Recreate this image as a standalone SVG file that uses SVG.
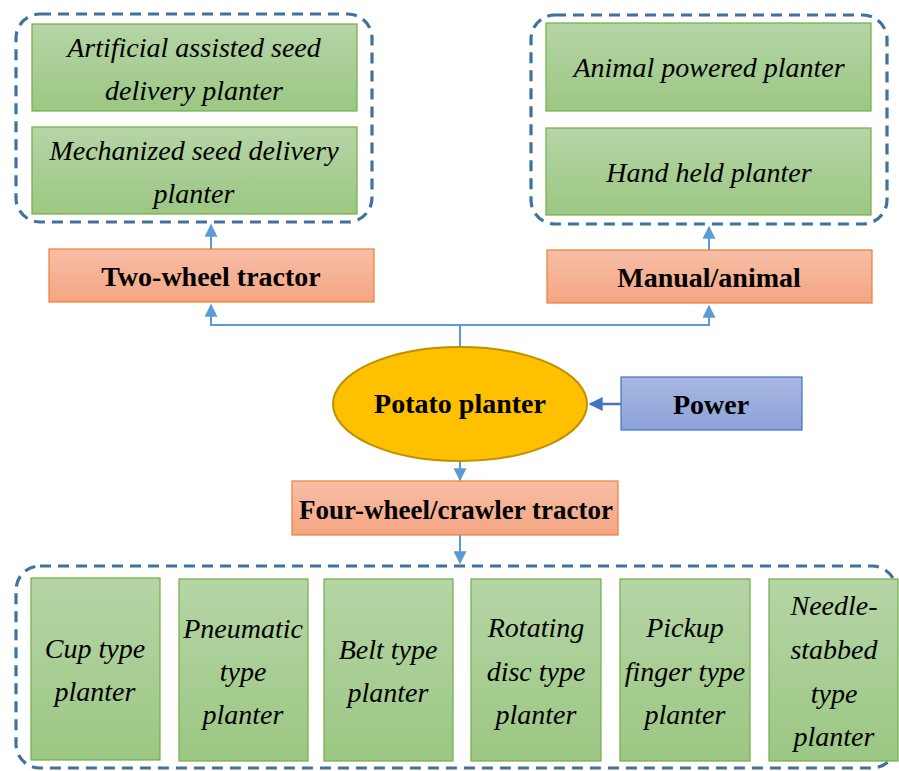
<svg xmlns="http://www.w3.org/2000/svg" width="899" height="771" viewBox="0 0 899 771">
<defs>
<linearGradient id="gG" x1="0" y1="0" x2="0" y2="1"><stop offset="0" stop-color="#b5d5a6"/><stop offset="1" stop-color="#9cc783"/></linearGradient>
<linearGradient id="gO" x1="0" y1="0" x2="0" y2="1"><stop offset="0" stop-color="#f7bea6"/><stop offset="1" stop-color="#f4a582"/></linearGradient>
<linearGradient id="gB" x1="0" y1="0" x2="0" y2="1"><stop offset="0" stop-color="#a9b8e2"/><stop offset="1" stop-color="#8ba2d8"/></linearGradient>
<marker id="ah" viewBox="0 0 10 10" refX="9" refY="5" markerWidth="13" markerHeight="13" markerUnits="userSpaceOnUse" orient="auto"><path d="M0,0 L10,5 L0,10 z" fill="#5b9bd5"/></marker>
<marker id="ahd" viewBox="0 0 10 10" refX="9" refY="5" markerWidth="14" markerHeight="14" markerUnits="userSpaceOnUse" orient="auto"><path d="M0,0 L10,5 L0,10 z" fill="#4472c4"/></marker>
<style>
.g{fill:url(#gG);stroke:#70ad47;stroke-width:1.2}
.o{fill:url(#gO);stroke:#ed7d31;stroke-width:1.2}
.d{fill:none;stroke:#41719c;stroke-width:3.2;stroke-dasharray:11 7}
.c{fill:none;stroke:#5b9bd5;stroke-width:2}
.ti{font-family:'Liberation Serif','Times New Roman',serif;font-style:italic;font-size:28px;fill:#000;text-anchor:middle}
.tb{font-family:'Liberation Serif','Times New Roman',serif;font-weight:bold;font-size:28px;fill:#000;text-anchor:middle}
</style>
</defs>
<g id="groups">
<rect class="d" x="16" y="14" width="356" height="208" rx="24"/>
<rect class="d" x="531" y="15" width="356" height="209" rx="24"/>
<rect class="d" x="16" y="566" width="880" height="202" rx="24"/>
</g>
<g id="connectors">
<path class="c" d="M460,347 V325 H211 V305" marker-end="url(#ah)"/>
<path class="c" d="M460,325 H709 V306" marker-end="url(#ah)"/>
<path class="c" d="M211,249 V225" marker-end="url(#ah)"/>
<path class="c" d="M709,250 V227" marker-end="url(#ah)"/>
<path class="c" d="M460,461 V480" marker-end="url(#ah)"/>
<path class="c" d="M460,535 V563" marker-end="url(#ah)"/>
<path fill="none" stroke="#4472c4" stroke-width="2.5" d="M621,404 H590" marker-end="url(#ahd)"/>
</g>
<g id="n-artificial"><rect class="g" x="32" y="24" width="325" height="87"/><text class="ti" x="194" y="57">Artificial assisted seed</text><text class="ti" x="194" y="100">delivery planter</text></g>
<g id="n-mechanized"><rect class="g" x="32" y="127" width="325" height="87"/><text class="ti" x="194" y="160">Mechanized seed delivery</text><text class="ti" x="194" y="203">planter</text></g>
<g id="n-animal"><rect class="g" x="546" y="23" width="325" height="88"/><text class="ti" x="709" y="77">Animal powered planter</text></g>
<g id="n-hand"><rect class="g" x="546" y="128" width="325" height="87"/><text class="ti" x="709" y="182">Hand held planter</text></g>
<g id="n-two"><rect class="o" x="49" y="249" width="325" height="53"/><text class="tb" x="211" y="286">Two-wheel tractor</text></g>
<g id="n-manual"><rect class="o" x="547" y="250" width="325" height="53"/><text class="tb" x="709" y="287">Manual/animal</text></g>
<g id="n-potato"><ellipse cx="460" cy="404" rx="127" ry="57" fill="#ffc000" stroke="#bf9000" stroke-width="2"/><text class="tb" x="460" y="413">Potato planter</text></g>
<g id="n-power"><rect x="621" y="377" width="181" height="53" fill="url(#gB)" stroke="#4472c4" stroke-width="1.2"/><text class="tb" x="711" y="414">Power</text></g>
<g id="n-four"><rect class="o" x="292" y="481" width="326" height="54"/><text class="tb" x="456" y="519" style="font-size:27px">Four-wheel/crawler tractor</text></g>
<g id="n-cup"><rect class="g" x="31" y="578" width="129" height="182"/><text class="ti" x="95" y="658">Cup type</text><text class="ti" x="95" y="701">planter</text></g>
<g id="n-pneumatic"><rect class="g" x="179" y="579" width="129" height="182"/><text class="ti" x="243" y="638">Pneumatic</text><text class="ti" x="243" y="681">type</text><text class="ti" x="243" y="724">planter</text></g>
<g id="n-belt"><rect class="g" x="324" y="579" width="129" height="182"/><text class="ti" x="388" y="659">Belt type</text><text class="ti" x="388" y="702">planter</text></g>
<g id="n-rotating"><rect class="g" x="471" y="579" width="130" height="182"/><text class="ti" x="536" y="637">Rotating</text><text class="ti" x="536" y="681">disc type</text><text class="ti" x="536" y="724">planter</text></g>
<g id="n-pickup"><rect class="g" x="620" y="579" width="130" height="182"/><text class="ti" x="685" y="637">Pickup</text><text class="ti" x="685" y="681">finger type</text><text class="ti" x="685" y="724">planter</text></g>
<g id="n-needle"><rect class="g" x="769" y="579" width="129" height="182"/><text class="ti" x="834" y="615">Needle-</text><text class="ti" x="834" y="659">stabbed</text><text class="ti" x="834" y="703">type</text><text class="ti" x="834" y="746">planter</text></g>
</svg>
